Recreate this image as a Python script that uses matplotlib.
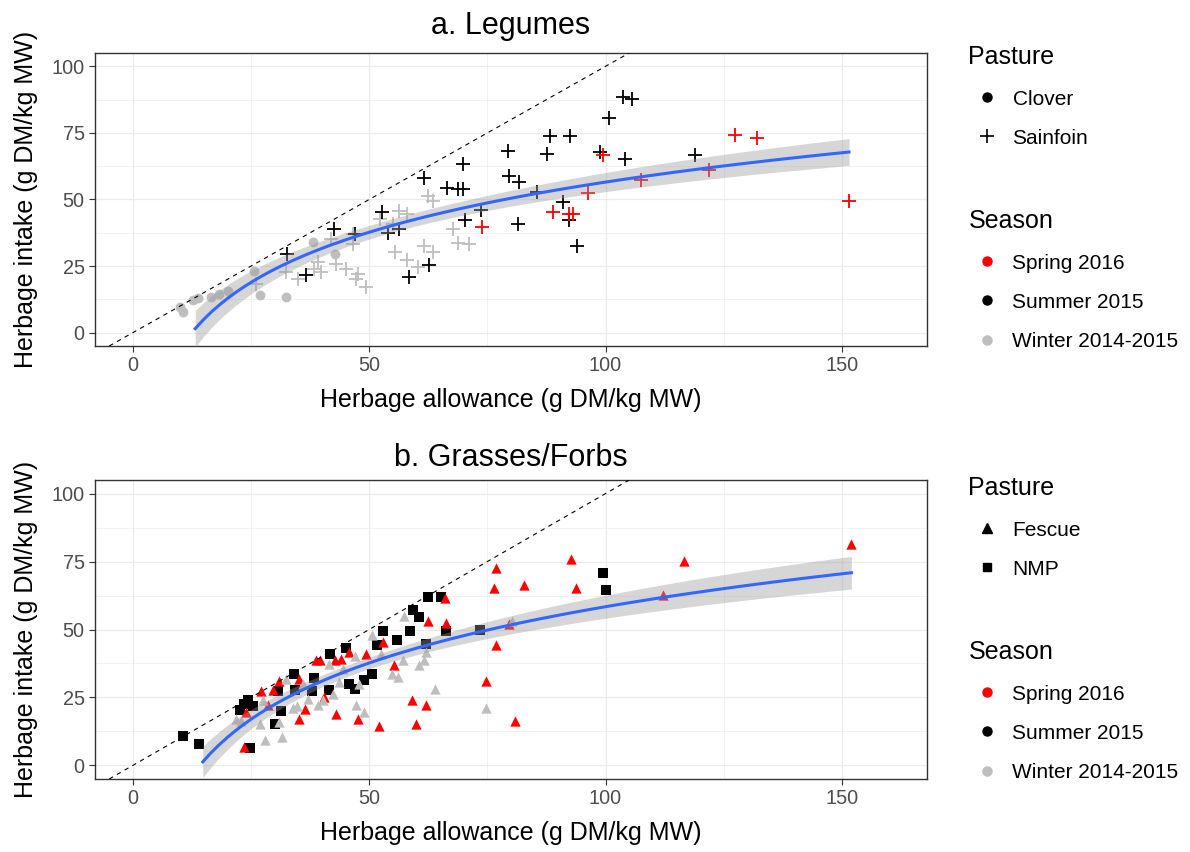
import matplotlib
matplotlib.use("Agg")
import matplotlib.pyplot as plt
from matplotlib.lines import Line2D
import numpy as np

plt.rcParams['font.family'] = ['Liberation Sans', 'DejaVu Sans']

# ---- a. Legumes ----
clover_winter_x = [10.0, 10.6, 12.7, 13.7, 16.6, 18.3, 20.1, 25.7, 26.8, 32.3, 38.1, 42.8]
clover_winter_y = [9.8, 7.7, 12.2, 13.1, 13.5, 14.7, 15.6, 23.0, 14.1, 13.5, 34.1, 29.5]

sainfoin_winter_x = [26.1, 32.4, 34.9, 38.4, 39.8, 39.1, 43.0, 41.9, 46.5, 46.5, 45.1, 47.6, 47.2,
                     49.3, 56.4, 58.1, 55.0, 55.5, 58.1, 60.3, 61.7, 63.4, 62.4, 63.4, 67.7, 68.7,
                     71.2, 52.2]
sainfoin_winter_y = [18.4, 22.7, 20.3, 24.0, 22.7, 26.7, 25.8, 35.1, 33.3, 37.0, 24.0, 22.1, 20.3,
                     17.2, 45.6, 44.4, 40.7, 30.2, 27.1, 24.6, 32.6, 30.2, 51.2, 49.3, 39.1, 33.6,
                     33.3, 42.5]

sainfoin_summer_x = [32.6, 36.6, 42.6, 47.1, 52.7, 53.9, 56.4, 58.5, 61.7, 62.7, 66.5, 68.7, 69.8,
                     69.9, 70.3, 73.6, 79.3, 79.5, 81.6, 81.4, 85.6, 88.2, 87.6, 92.5, 91.0, 92.2,
                     93.9, 98.8, 100.8, 104.1, 103.7, 105.6, 118.9]
sainfoin_summer_y = [29.5, 21.5, 39.1, 37.0, 45.4, 37.3, 39.1, 20.9, 58.0, 25.5, 54.3, 53.9, 53.9,
                     63.5, 42.2, 46.2, 68.2, 58.8, 56.7, 40.9, 53.0, 73.7, 67.0, 74.0, 49.1, 42.2,
                     32.6, 67.9, 80.6, 65.1, 88.5, 87.9, 66.6]

sainfoin_spring_x = [73.9, 96.2, 88.8, 92.3, 93.2, 99.4, 107.6, 121.8, 127.3, 132.0, 151.5]
sainfoin_spring_y = [39.7, 52.4, 45.4, 44.6, 44.6, 66.6, 57.4, 61.1, 74.4, 73.1, 49.3]

# ---- b. Grasses/Forbs ----
nmp_summer_x = [10.6, 14.0, 22.6, 23.6, 24.3, 25.4, 24.8, 30.0, 30.7, 31.4, 34.2, 34.4, 37.9, 38.4,
                41.6, 41.7, 45.0, 45.7, 47.1, 48.8, 50.7, 51.6, 52.9, 55.8, 58.6, 59.3, 60.5,
                62.4, 65.2, 66.2, 73.4, 62.0, 99.5, 100.1]
nmp_summer_y = [10.7, 7.7, 20.5, 22.7, 23.9, 21.7, 6.3, 15.1, 27.2, 20.0, 33.5, 27.8, 27.4, 32.2,
                27.6, 41.0, 43.2, 29.8, 28.1, 31.5, 33.5, 44.4, 49.3, 46.2, 49.3, 57.1, 54.5,
                61.8, 62.0, 49.6, 49.8, 44.7, 70.9, 64.6]

fescue_spring_x = [23.6, 24.0, 27.1, 28.5, 29.6, 30.9, 35.1, 35.2, 36.5, 38.8, 39.5, 40.4, 42.8,
                   43.0, 44.0, 45.8, 47.6, 49.3, 52.1, 52.9, 55.3, 59.1, 59.9, 62.0, 62.4, 66.1,
                   66.2, 74.8, 76.8, 76.5, 76.8, 80.9, 82.8, 92.7, 93.7, 112.2, 116.5, 152.0, 79.5]
fescue_spring_y = [6.8, 19.7, 27.4, 22.1, 27.6, 31.0, 31.9, 17.2, 20.9, 38.8, 38.6, 25.2, 38.6,
                   18.8, 39.2, 41.6, 17.2, 41.0, 14.4, 45.3, 36.8, 23.9, 15.4, 22.1, 53.2, 61.5,
                   52.3, 31.0, 44.4, 65.2, 72.8, 16.4, 66.3, 76.1, 65.2, 62.8, 75.2, 81.3, 52.0]

fescue_winter_x = [21.8, 22.9, 26.8, 28.0, 31.6, 27.5, 31.0, 32.4, 33.8, 34.7, 35.9, 37.0, 39.1,
                   40.2, 41.6, 42.3, 43.7, 44.4, 46.9, 47.2, 49.0, 47.9, 50.7, 52.5, 54.8, 56.0,
                   57.1, 57.4, 60.6, 61.7, 62.0, 64.0, 74.7, 80.3]
fescue_winter_y = [17.2, 16.4, 15.1, 9.5, 10.5, 23.9, 16.0, 31.9, 21.2, 21.7, 30.0, 24.5, 22.1,
                   23.9, 37.4, 26.4, 30.6, 35.5, 40.4, 22.1, 19.7, 30.0, 48.1, 41.0, 33.5, 32.7,
                   38.6, 55.1, 36.8, 38.8, 41.6, 28.2, 21.2, 53.2]

season_labels = ['Spring 2016', 'Summer 2015', 'Winter 2014-2015']
season_colors = {'Spring 2016': '#FF0000', 'Summer 2015': '#000000', 'Winter 2014-2015': '#BEBEBE'}
fit_start = [13.2, 14.8]

GRID = '#EBEBEB'


def style_axes(ax, title, title_pad):
    ax.set_xlim(-8, 168)
    ax.set_ylim(-5, 105)
    ax.set_xticks([0, 50, 100, 150])
    ax.set_yticks([0, 25, 50, 75, 100])
    ax.set_xticks([25, 75, 125], minor=True)
    ax.set_yticks([12.5, 37.5, 62.5, 87.5], minor=True)
    ax.grid(True, which='major', color=GRID, lw=0.9)
    ax.grid(True, which='minor', color=GRID, lw=0.45)
    ax.tick_params(which='minor', length=0)
    ax.tick_params(which='major', length=4.5, width=0.8, color='#333333', pad=3,
                   labelsize=14.3, labelcolor='#4D4D4D')
    ax.set_axisbelow(True)
    for s in ax.spines.values():
        s.set_color('#333333')
        s.set_linewidth(1.0)
    ax.set_title(title, fontsize=22, pad=title_pad)
    ax.set_xlabel('Herbage allowance (g DM/kg MW)', fontsize=18, labelpad=9)
    ax.set_ylabel('Herbage intake (g DM/kg MW)', fontsize=18, labelpad=10)


def add_fit(ax, xs, ys, x0):
    # lm(y ~ log(x)) with 95% confidence band, like geom_smooth
    x = np.asarray(xs, float)
    y = np.asarray(ys, float)
    X = np.column_stack([np.ones_like(x), np.log(x)])
    beta, *_ = np.linalg.lstsq(X, y, rcond=None)
    resid = y - X @ beta
    n = len(x)
    s2 = resid @ resid / (n - 2)
    cov = s2 * np.linalg.inv(X.T @ X)
    xg = np.linspace(x0, x.max(), 80)
    Xg = np.column_stack([np.ones_like(xg), np.log(xg)])
    yg = Xg @ beta
    se = np.sqrt(np.einsum('ij,jk,ik->i', Xg, cov, Xg))
    ax.fill_between(xg, yg - 1.98 * se, yg + 1.98 * se, color='#999999', alpha=0.4, lw=0, zorder=3)
    ax.plot(xg, yg, color='#3366FF', lw=2.2, zorder=4)


LEG_KW = dict(loc='upper left', frameon=False, fontsize=15, title_fontsize=18, alignment='left',
              labelspacing=0.97, handlelength=1.83, handletextpad=0.29, borderaxespad=0)


def add_legends(ax, pasture_handles, y_top):
    leg1 = ax.legend(handles=pasture_handles, title='Pasture',
                     bbox_to_anchor=(960 / 1190, y_top), bbox_transform=fig.transFigure, **LEG_KW)
    ax.add_artist(leg1)
    season_handles = [Line2D([], [], ls='', marker='o', ms=6.5, color=season_colors[s], label=s)
                      for s in season_labels]
    ax.legend(handles=season_handles, title='Season',
              bbox_to_anchor=(960 / 1190, y_top - 164 / 852), bbox_transform=fig.transFigure, **LEG_KW)


fig = plt.figure(figsize=(11.9, 8.52), dpi=100)
ax1 = fig.add_axes([95 / 1190, 1 - 346 / 852, 832 / 1190, 293 / 852])
ax2 = fig.add_axes([95 / 1190, 1 - 779 / 852, 832 / 1190, 299 / 852])

# panel a
ax1.scatter(clover_winter_x, clover_winter_y, marker='o', s=50, color=season_colors['Winter 2014-2015'],
            lw=0, zorder=2)
ax1.scatter(sainfoin_winter_x, sainfoin_winter_y, marker='+', s=110, color=season_colors['Winter 2014-2015'],
            lw=1.3, zorder=2)
ax1.scatter(sainfoin_summer_x, sainfoin_summer_y, marker='+', s=110, color=season_colors['Summer 2015'],
            lw=1.3, zorder=2)
ax1.scatter(sainfoin_spring_x, sainfoin_spring_y, marker='+', s=110, color=season_colors['Spring 2016'],
            lw=1.3, zorder=2)
add_fit(ax1, clover_winter_x + sainfoin_winter_x + sainfoin_summer_x + sainfoin_spring_x,
        clover_winter_y + sainfoin_winter_y + sainfoin_summer_y + sainfoin_spring_y, fit_start[0])
ax1.axline((0, 0), slope=1, color='black', ls=(0, (4, 4)), lw=0.8, zorder=5)
style_axes(ax1, 'a. Legumes', 13.5)

# panel b
ax2.scatter(nmp_summer_x, nmp_summer_y, marker='s', s=45, color=season_colors['Summer 2015'], lw=0, zorder=2)
ax2.scatter(fescue_spring_x, fescue_spring_y, marker='^', s=55, color=season_colors['Spring 2016'], lw=0, zorder=2)
ax2.scatter(fescue_winter_x, fescue_winter_y, marker='^', s=55, color=season_colors['Winter 2014-2015'],
            lw=0, zorder=2)
add_fit(ax2, nmp_summer_x + fescue_spring_x + fescue_winter_x,
        nmp_summer_y + fescue_spring_y + fescue_winter_y, fit_start[1])
ax2.axline((0, 0), slope=1, color='black', ls=(0, (4, 4)), lw=0.8, zorder=5)
style_axes(ax2, 'b. Grasses/Forbs', 10)

add_legends(ax1, [Line2D([], [], ls='', marker='o', ms=6.5, color='black', label='Clover'),
                  Line2D([], [], ls='', marker='+', ms=10, mew=1.2, color='black', label='Sainfoin')],
            1 - 37 / 852)
add_legends(ax2, [Line2D([], [], ls='', marker='^', ms=7, color='black', label='Fescue'),
                  Line2D([], [], ls='', marker='s', ms=6, color='black', label='NMP')],
            1 - 468 / 852)

fig.savefig('out.png', dpi=100)
